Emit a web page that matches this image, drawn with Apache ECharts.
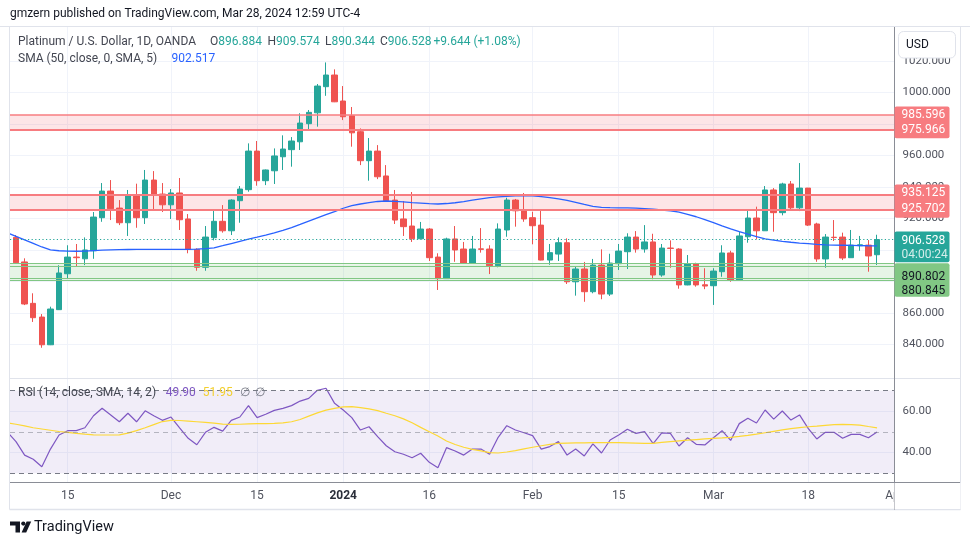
<!DOCTYPE html>
<html><head><meta charset="utf-8">
<script src="https://cdn.jsdelivr.net/npm/echarts@6/dist/echarts.min.js"></script>
<style>html,body{margin:0;padding:0;background:#fff;}#c{width:970px;height:545px;}</style>
</head><body><div id="c"></div>
<script>
// ---- data (one entry per trading day; first day only feeds the indicator lines) ----
const dates = [
'2023-11-06','2023-11-07','2023-11-08','2023-11-09','2023-11-10',
'2023-11-13','2023-11-14','2023-11-15','2023-11-16','2023-11-17',
'2023-11-20','2023-11-21','2023-11-22','2023-11-23','2023-11-24',
'2023-11-27','2023-11-28','2023-11-29','2023-11-30','2023-12-01',
'2023-12-04','2023-12-05','2023-12-06','2023-12-07','2023-12-08',
'2023-12-11','2023-12-12','2023-12-13','2023-12-14','2023-12-15',
'2023-12-18','2023-12-19','2023-12-20','2023-12-21','2023-12-22',
'2023-12-26','2023-12-27','2023-12-28','2023-12-29',
'2024-01-02','2024-01-03','2024-01-04','2024-01-05',
'2024-01-08','2024-01-09','2024-01-10','2024-01-11','2024-01-12',
'2024-01-15','2024-01-16','2024-01-17','2024-01-18','2024-01-19',
'2024-01-22','2024-01-23','2024-01-24','2024-01-25','2024-01-26',
'2024-01-29','2024-01-30','2024-01-31','2024-02-01','2024-02-02',
'2024-02-05','2024-02-06','2024-02-07','2024-02-08','2024-02-09',
'2024-02-12','2024-02-13','2024-02-14','2024-02-15','2024-02-16',
'2024-02-19','2024-02-20','2024-02-21','2024-02-22','2024-02-23',
'2024-02-26','2024-02-27','2024-02-28','2024-02-29','2024-03-01',
'2024-03-04','2024-03-05','2024-03-06','2024-03-07','2024-03-08',
'2024-03-11','2024-03-12','2024-03-13','2024-03-14','2024-03-15',
'2024-03-18','2024-03-19','2024-03-20','2024-03-21','2024-03-22',
'2024-03-25','2024-03-26','2024-03-27','2024-03-28'];

const open = [null,
907.9,892.3,866.0,857.3,839.7,862.0,884.8,895.4,894.3,899.4,
920.4,937.3,926.5,917.2,934.2,920.4,944.3,935.4,928.6,936.1,
919.6,900.3,888.9,907.7,918.1,912.1,931.2,938.2,962.7,943.9,
950.2,959.1,963.6,968.6,980.1,987.0,1003.6,1011.0,994.5,985.1,
975.0,956.6,962.7,946.9,931.6,919.6,915.1,907.0,913.2,895.4,
881.7,906.9,900.5,891.6,900.6,900.5,889.9,912.6,931.6,925.3,
920.4,915.7,893.5,897.3,904.5,879.7,887.8,873.4,890.3,871.9,
891.2,898.8,908.1,900.5,905.0,884.0,901.1,900.5,877.7,891.0,
877.8,877.2,886.1,898.0,880.8,908.3,920.2,912.1,938.0,923.6,
941.8,926.7,939.2,916.4,894.2,908.0,908.1,895.0,902.6,903.0,
896.884];
const close = [null,
891.8,865.6,856.9,839.7,862.4,885.3,895.4,895.0,899.9,920.8,
937.3,926.1,917.2,934.2,920.4,944.3,934.8,928.6,936.1,919.1,
900.3,888.9,908.1,918.1,912.1,931.6,938.6,962.7,943.9,950.7,
959.6,964.0,969.1,980.5,987.3,1004.0,1011.0,994.0,984.5,974.3,
956.6,962.7,946.4,931.2,918.9,914.7,907.0,913.2,895.0,881.7,
906.9,899.9,891.6,900.5,900.3,889.9,913.2,931.6,924.8,919.6,
915.3,893.5,898.2,904.5,879.7,887.8,873.4,890.3,871.9,891.6,
899.2,908.1,900.5,905.0,884.0,901.1,900.9,877.7,891.0,877.7,
877.0,886.5,898.0,880.8,908.8,920.2,912.1,938.0,923.6,941.8,
926.7,939.2,915.7,894.2,908.1,907.8,894.8,903.0,903.2,896.1,
906.528];
const low = [null,
891.0,864.9,854.2,837.8,839.5,861.8,881.7,889.3,890.3,894.3,
917.8,918.9,915.7,908.8,914.0,916.4,925.3,924.0,919.6,912.6,
897.8,886.7,886.7,906.0,910.9,909.4,917.2,936.9,940.7,941.1,
941.8,950.7,952.8,963.4,976.1,978.2,997.8,993.8,982.4,965.5,
953.8,943.9,944.9,931.0,916.4,908.8,905.0,906.8,892.9,874.5,
881.5,892.4,891.4,891.4,898.2,884.6,888.9,908.3,914.7,917.8,
903.5,893.3,890.5,892.9,878.3,870.9,867.0,872.4,868.6,870.7,
887.2,887.8,898.2,898.2,881.3,882.9,888.6,875.3,877.5,876.6,
875.0,865.0,882.9,879.7,880.5,904.5,906.7,912.0,911.5,921.9,
925.9,924.6,915.1,892.4,888.6,905.6,893.5,895.0,899.4,886.1,
890.344];
const high = [null,
909.4,894.6,872.4,859.2,863.9,890.2,902.9,903.7,907.9,924.0,
942.4,944.3,931.6,938.0,942.0,950.7,950.0,942.4,938.6,945.6,
922.7,901.0,915.1,925.7,928.4,932.1,940.5,967.6,969.1,951.0,
964.4,972.7,971.6,986.7,988.8,1005.3,1019.0,1014.6,1004.0,990.7,
977.1,971.0,966.5,953.8,938.0,931.0,936.7,917.7,913.8,897.8,
907.7,915.1,905.0,908.8,913.8,902.9,916.8,933.1,932.3,936.1,
924.2,925.9,903.7,907.9,907.3,889.1,892.3,894.2,900.3,897.5,
903.7,910.5,911.9,915.7,910.2,903.7,906.0,901.0,896.7,891.8,
888.3,888.3,902.9,899.4,911.5,925.7,927.4,940.5,939.2,942.6,
943.7,955.1,939.3,917.2,910.0,918.9,910.9,912.6,908.8,906.2,
909.574];
const sma = [910.8,
908.6,906.3,904.1,901.8,900.0,899.4,899.2,899.1,899.2,899.5,
899.8,900.0,900.1,900.2,900.3,900.3,900.3,900.3,900.3,900.3,
900.3,900.4,900.7,901.3,902.6,904.0,905.4,906.8,908.0,909.3,
910.7,912.3,914.1,916.1,918.2,920.3,922.3,924.3,926.4,928.1,
929.1,930.0,930.7,931.0,930.8,930.4,930.0,929.7,929.3,929.1,
929.4,929.9,930.6,931.5,932.4,933.1,933.6,934.0,934.2,934.4,
934.2,933.8,933.2,932.4,931.4,930.2,928.8,927.6,927.0,926.8,
926.7,926.7,926.5,926.2,925.8,925.3,924.8,924.0,922.5,921.0,
919.2,917.3,915.2,913.3,911.5,909.9,908.4,907.0,906.2,905.4,
904.8,904.3,903.9,903.5,903.2,903.0,902.9,902.8,902.7,902.6,
902.517];
const rsi = [49.9,
45.3,38.8,36.8,33.2,41.7,48.5,50.6,50.6,52.0,57.8,
61.4,58.2,54.9,59.0,54.9,60.2,57.8,55.6,57.2,52.0,
46.9,43.8,49.8,52.2,50.4,55.6,57.2,62.7,56.9,58.5,
60.4,61.4,62.7,64.9,66.2,70.1,71.1,63.8,60.6,56.9,
50.9,52.5,47.7,43.3,40.4,39.2,37.5,39.7,35.3,32.7,
42.4,40.8,38.8,41.7,41.7,39.2,47.4,53.0,50.9,49.6,
48.2,41.7,42.9,45.3,38.8,41.7,38.4,44.2,39.8,46.1,
48.5,51.3,49.3,50.1,44.3,49.5,49.3,43.2,47.2,44.0,
43.7,47.2,50.6,45.9,54.0,56.6,54.3,60.6,56.2,60.1,
55.7,58.2,51.7,46.6,49.8,49.8,46.9,48.8,48.8,47.2,
49.90];
const rsiMa = [54.4,
53.7,52.9,52.0,51.4,50.8,50.2,49.8,49.3,48.9,48.6,
48.5,48.5,48.6,49.4,50.6,52.0,53.5,55.0,55.6,55.5,
55.2,54.9,54.6,54.2,53.8,53.6,53.7,53.9,54.0,54.0,
54.1,54.4,54.9,56.0,57.6,59.2,60.5,61.4,62.1,62.2,
61.7,61.1,60.3,59.0,57.8,56.3,54.4,52.2,50.1,48.0,
45.6,43.9,42.6,41.6,40.8,40.0,39.8,40.3,41.0,41.8,
42.6,43.3,44.0,44.5,44.6,44.7,44.7,44.8,44.8,44.8,
44.8,44.7,44.6,44.5,44.5,44.9,45.3,45.7,46.0,46.3,
46.6,46.9,47.1,47.4,47.8,48.3,48.9,49.6,50.3,51.0,
51.6,52.1,52.5,52.8,53.2,53.5,53.6,53.5,53.3,52.6,
51.95];

const tickDates = ['2023-11-15','2023-12-01','2023-12-15','2024-01-02','2024-01-16','2024-02-01','2024-02-15','2024-03-01','2024-03-18'];
const tickText  = ['15','Dec','15','2024','16','Feb','15','Mar','18'];
const priceTicks = [840,860,880,900,920,940,960,980,1000,1020];
const rsiTicks = [40,60];
const rsiLevels = [70,50,30];
const resistZones = [[975.966,985.596],[925.702,935.125]];
const supportZone = [880.845,890.802];
const lastPrice = 906.528;
const countdown = '04:00:24';
const legendOHLC = ['896.884','909.574','890.344','906.528'];
const legendChange = '+9.644 (+1.08%)';
const smaLast = '902.517', rsiLast = '49.90', rsiMaLast = '51.95';

// ---- build ----
const FONT = 'Roboto, "Liberation Sans", sans-serif';
const UP = '#26a69a', DOWN = '#ef5350';
const candleData = [];
for (let k = 0; k < dates.length; k++) if (open[k] != null) candleData.push([k, open[k], close[k], low[k], high[k]]);
const smaData = sma.map((v, k) => [k, v]);
const rsiData = rsi.map((v, k) => [k, v]);
const rsiMaData = rsiMa.map((v, k) => [k, v]);
const tickX = tickDates.map(d => dates.indexOf(d));
const tickLabel = {}; tickX.forEach((x, i) => tickLabel[x] = tickText[i]);
const lastK = dates.length - 1;
const xMin = 1 - 0.697, xMax = lastK + 1.97;

const chart = echarts.init(document.getElementById('c'), null, {renderer: 'canvas'});
const gridLine = {show: true, lineStyle: {color: '#f0f3fa', width: 1}};
const option = {
  animation: false,
  backgroundColor: '#ffffff',
  grid: [
    {left: 10, right: 76, top: 27, height: 351},
    {left: 10, right: 76, top: 379, height: 103}
  ],
  xAxis: [
    {type: 'value', gridIndex: 0, min: xMin, max: xMax, axisLine: {show: false},
     axisTick: {show: false, customValues: tickX}, axisLabel: {show: false}, splitLine: gridLine},
    {type: 'value', gridIndex: 1, min: xMin, max: xMax, axisLine: {show: false},
     axisTick: {show: false, customValues: tickX},
     axisLabel: {customValues: tickX, margin: 8, color: '#50535e', fontSize: 12, fontFamily: FONT,
       formatter: v => tickLabel[v] === '2024' ? '{b|2024}' : (tickLabel[v] || ''),
       rich: {b: {fontWeight: 'bold', color: '#2a2e39', fontSize: 12, fontFamily: FONT}}},
     splitLine: gridLine}
  ],
  yAxis: [
    {type: 'value', gridIndex: 0, position: 'right', min: 818.6, max: 1041.5, scale: true,
     axisLine: {show: false}, axisTick: {show: false, customValues: priceTicks},
     axisLabel: {customValues: priceTicks, formatter: v => v.toFixed(3), color: '#50535e', fontSize: 11.5, fontFamily: FONT, margin: 8.5},
     splitLine: gridLine},
    {type: 'value', gridIndex: 1, position: 'right', min: 25.8, max: 75.56,
     axisLine: {show: false}, axisTick: {show: false, customValues: rsiTicks},
     axisLabel: {customValues: rsiTicks, formatter: v => v.toFixed(2), color: '#50535e', fontSize: 11.5, fontFamily: FONT, margin: 8.5},
     splitLine: gridLine}
  ],
  series: [
    { // zones (under candles)
      type: 'line', xAxisIndex: 0, yAxisIndex: 0, data: [], z: 1, silent: true,
      markArea: {silent: true, data: [
        [{yAxis: resistZones[0][0], itemStyle: {color: 'rgba(242,54,69,0.13)'}}, {yAxis: resistZones[0][1]}],
        [{yAxis: resistZones[1][0], itemStyle: {color: 'rgba(242,54,69,0.13)'}}, {yAxis: resistZones[1][1]}],
        [{yAxis: supportZone[0], itemStyle: {color: 'rgba(76,175,80,0.14)'}}, {yAxis: supportZone[1]}]
      ]},
      markLine: {silent: true, symbol: 'none', label: {show: false}, data: [
        {yAxis: resistZones[0][1], lineStyle: {color: '#f77c80', width: 1.5, type: 'solid'}},
        {yAxis: resistZones[0][0], lineStyle: {color: '#f77c80', width: 2, type: 'solid'}},
        {yAxis: resistZones[1][1], lineStyle: {color: '#f77c80', width: 2, type: 'solid'}},
        {yAxis: resistZones[1][0], lineStyle: {color: '#f77c80', width: 2, type: 'solid'}},
        {yAxis: supportZone[1] + 0.5, lineStyle: {color: '#81c784', width: 1.2, type: 'solid'}},
        {yAxis: supportZone[1] - 1.0, lineStyle: {color: '#81c784', width: 1.2, type: 'solid'}},
        {yAxis: supportZone[0] + 1.0, lineStyle: {color: '#81c784', width: 1.2, type: 'solid'}},
        {yAxis: supportZone[0] - 0.2, lineStyle: {color: '#81c784', width: 1.2, type: 'solid'}}
      ]}
    },
    {
      type: 'candlestick', xAxisIndex: 0, yAxisIndex: 0, z: 3, barWidth: 6,
      encode: {x: 0, y: [1, 2, 3, 4]},
      data: candleData,
      itemStyle: {color: UP, color0: DOWN, borderColor: UP, borderColor0: DOWN, borderColorDoji: DOWN, borderWidth: 1},
      markLine: {silent: true, symbol: 'none', label: {show: false},
        data: [{yAxis: lastPrice, lineStyle: {color: UP, width: 1.2, type: [1.2, 2.4]}}]}
    },
    {
      type: 'line', xAxisIndex: 0, yAxisIndex: 0, data: smaData, z: 4, showSymbol: false, symbol: 'none',
      lineStyle: {color: '#2962ff', width: 1.3}
    },
    { // rsi band + levels
      type: 'line', xAxisIndex: 1, yAxisIndex: 1, data: [], z: 1, silent: true,
      markArea: {silent: true, itemStyle: {color: 'rgba(126,87,194,0.11)'}, data: [[{yAxis: rsiLevels[2]}, {yAxis: rsiLevels[0]}]]},
      markLine: {silent: true, symbol: 'none', label: {show: false}, data: [
        {yAxis: rsiLevels[0], lineStyle: {color: '#787b86', width: 1, type: [5, 4]}},
        {yAxis: rsiLevels[1], lineStyle: {color: 'rgba(120,123,134,0.5)', width: 1, type: [5, 4]}},
        {yAxis: rsiLevels[2], lineStyle: {color: '#787b86', width: 1, type: [5, 4]}}
      ]}
    },
    {type: 'line', xAxisIndex: 1, yAxisIndex: 1, data: rsiData, z: 3, showSymbol: false, symbol: 'none',
     lineStyle: {color: '#7e57c2', width: 1.2}},
    {type: 'line', xAxisIndex: 1, yAxisIndex: 1, data: rsiMaData, z: 3, showSymbol: false, symbol: 'none',
     lineStyle: {color: '#fdd835', width: 1.2}}
  ]
};
chart.setOption(option);

// ---- decorations and price labels ----
const py = v => chart.convertToPixel({yAxisIndex: 0}, v);
const px = v => chart.convertToPixel({xAxisIndex: 1}, v);
const g = [];
function txt(x, y, text, fill, size, extra) {
  g.push(Object.assign({type: 'text', x: x, y: y, z: 120,
    style: {text: text, fill: fill, font: (size || 12) + 'px ' + FONT, textVerticalAlign: 'middle', verticalAlign: 'middle'}}, extra || {}));
}
function line(x1, y1, x2, y2, stroke, w) {
  g.push({type: 'line', z: 110, shape: {x1: x1, y1: y1, x2: x2, y2: y2}, style: {stroke: stroke, lineWidth: w || 1}});
}
function box(x, y, w, h, fill, r) {
  g.push({type: 'rect', z: 115, shape: {x: x, y: y, width: w, height: h, r: r || 0}, style: {fill: fill}});
}
// frame
line(0, 26.5, 970, 26.5, '#e0e3eb', 1);
line(9.5, 27, 9.5, 509.5, '#e0e3eb', 1);
line(960.5, 27, 960.5, 509.5, '#e0e3eb', 1);
line(9.5, 509.5, 960.5, 509.5, '#e0e3eb', 1.5);
line(10, 378.5, 960, 378.5, '#e0e3eb', 1);
// April label (partially hidden under price scale)
txt(px(lastK + 2) - 9, 495.5, 'Apr', '#50535e', 12, {z: 105});
box(894.5, 483, 66, 26, '#ffffff', 0);
line(10, 482.5, 960, 482.5, '#8a8d96', 1);
line(894.5, 27, 894.5, 509.5, '#8a8d96', 1);
// USD box
g.push({type: 'rect', z: 116, shape: {x: 898.5, y: 31.5, width: 57, height: 26.5, r: 5}, style: {fill: '#fff', stroke: '#e0e3eb', lineWidth: 1}});
txt(906, 44.5, 'USD', '#131722', 12, {z: 117});
// header
txt(10, 14, 'gmzern published on TradingView.com, Mar 28, 2024 12:59 UTC-4', '#131722', 12);
// legend
txt(18, 42, 'Platinum / U.S. Dollar, 1D, OANDA', '#434651', 12);
['O', 'H', 'L', 'C'].forEach((p, i) => {
  g.push({type: 'text', x: [210, 267.5, 325, 380][i], y: 42, z: 120,
    style: {text: p + '{v|' + legendOHLC[i] + '}', fill: '#434651', font: '12px ' + FONT, textVerticalAlign: 'middle', verticalAlign: 'middle',
      rich: {v: {fill: UP, color: UP, font: '12px ' + FONT}}}});
});
txt(433.5, 42, legendChange, UP, 12);
txt(18, 58.7, 'SMA (50, close, 0, SMA, 5)', '#434651', 12);
txt(171.5, 58.7, smaLast, '#2962ff', 12);
txt(18, 393, 'RSI (14, close, SMA, 14, 2)', '#434651', 12);
txt(165.7, 393, rsiLast, '#7e57c2', 12);
txt(202.7, 393, rsiMaLast, '#f2cf2f', 12);
txt(240, 393, '\u2205', '#787b86', 12);
txt(255, 393, '\u2205', '#787b86', 12);
// price scale labels
const BX = 894.5, BW = 55, TX = 901.5;
let y1 = py(resistZones[0][1]), y2 = py(resistZones[0][0]);
box(BX, y1 - 8.5, BW, (y2 + 8) - (y1 - 8.5), '#f77c80', 2);
txt(TX, y1 - 0.5, resistZones[0][1].toFixed(3), '#fff', 12, {z: 121});
txt(TX, y2, resistZones[0][0].toFixed(3), '#fff', 12, {z: 121});
y1 = py(resistZones[1][1]); y2 = py(resistZones[1][0]);
box(BX, y1 - 10, BW, (y2 + 8.5) - (y1 - 10), '#f77c80', 2);
txt(TX, y1 - 1.8, resistZones[1][1].toFixed(3), '#fff', 12, {z: 121});
txt(TX, y2, resistZones[1][0].toFixed(3), '#fff', 12, {z: 121});
const yl = py(lastPrice);
box(BX, yl - 8, BW, 30.6, UP, 2);
txt(TX, yl + 1, lastPrice.toFixed(3), '#fff', 12, {z: 121});
txt(TX, yl + 15.3, countdown, 'rgba(255,255,255,0.8)', 12, {z: 121});
const gTop = yl - 8 + 31.6;
box(BX, gTop, BW, 33.7, '#81c784', 2);
txt(TX, gTop + 13.4, supportZone[1].toFixed(3), '#131722', 12, {z: 121});
txt(TX, gTop + 27.4, supportZone[0].toFixed(3), '#131722', 12, {z: 121});
// TradingView logo + wordmark
g.push({type: 'polygon', z: 120, shape: {points: [[10,521.5],[20,521.5],[20,532.5],[15.5,532.5],[15.5,525.5],[10,525.5]]}, style: {fill: '#131722'}});
g.push({type: 'circle', z: 120, shape: {cx: 23.3, cy: 523.6, r: 2.1}, style: {fill: '#131722'}});
g.push({type: 'polygon', z: 120, shape: {points: [[26.6,521.5],[31.2,521.5],[26.2,532.5],[21.6,532.5]]}, style: {fill: '#131722'}});
txt(34, 527.5, 'TradingView', '#131722', 14.5);
chart.setOption({graphic: {elements: g}});
</script></body></html>
